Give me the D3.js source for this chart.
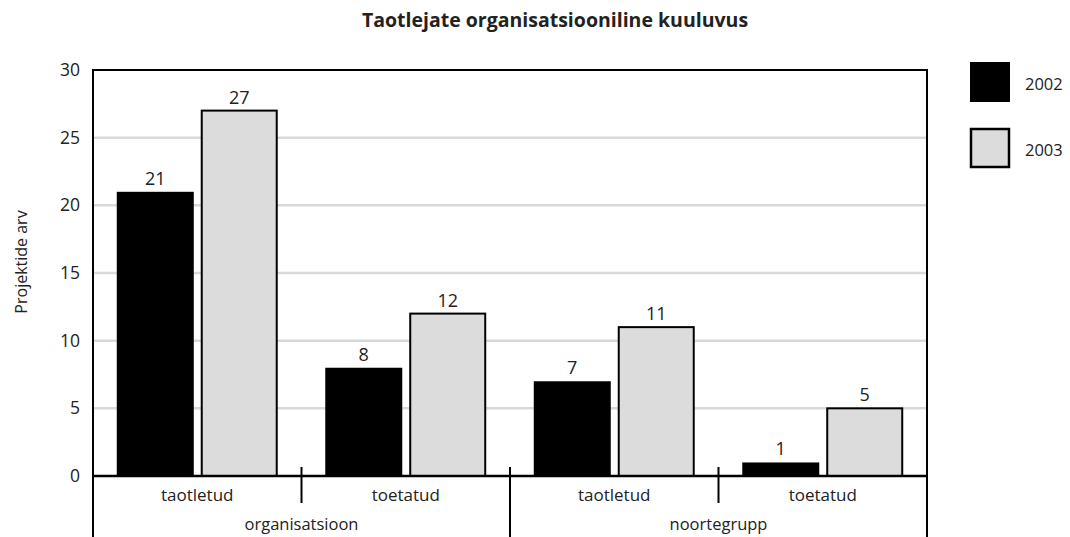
<!DOCTYPE html>
<html>
<head>
<meta charset="utf-8">
<script src="https://cdn.jsdelivr.net/npm/d3@7"></script>
<style>
  body { margin: 0; background: #fff; }
  text { font-family: "Open Sans", "Noto Sans", sans-serif; fill: #222; }
</style>
</head>
<body>
<div id="chart"></div>
<script>
const groups = ['organisatsioon', 'noortegrupp']
const subgroups = ['taotletud', 'toetatud']
const years = ['2002', '2003']
const values2002 = [21, 8, 7, 1]
const values2003 = [27, 12, 11, 5]
const yTicks = [0, 5, 10, 15, 20, 25, 30]

const width = 1070
const height = 537
const margin = { top: 70, left: 93, right: 143, bottom: 61 }
const plotW = width - margin.left - margin.right
const plotH = height - margin.top - margin.bottom

const colors = { '2002': '#000000', '2003': '#dcdcdc' }

const svg = d3
  .select('#chart')
  .append('svg')
  .attr('width', width)
  .attr('height', height)

// title
svg
  .append('text')
  .attr('x', 555)
  .attr('y', 27)
  .attr('text-anchor', 'middle')
  .attr('font-size', 19.5)
  .attr('font-weight', 'bold')
  .text('Taotlejate organisatsiooniline kuuluvus')

const g = svg.append('g').attr('transform', `translate(${margin.left},${margin.top})`)

// scales
const cells = []
groups.forEach((grp) => subgroups.forEach((sub) => cells.push({ grp, sub, key: `${grp}|${sub}` })))
cells.forEach((c, i) => {
  c['2002'] = values2002[i]
  c['2003'] = values2003[i]
})

const x0 = d3.scaleBand().domain(cells.map((c) => c.key)).range([0, plotW]).padding(0)
const x1 = d3
  .scaleBand()
  .domain(years)
  .range([0, x0.bandwidth()])
  .paddingInner(0.083)
  .paddingOuter(0.283)
const xg = d3.scaleBand().domain(groups).range([0, plotW]).padding(0)
const y = d3.scaleLinear().domain([0, 30]).range([plotH, 0])

// grid
g.selectAll('line.grid')
  .data(yTicks.filter((t) => t > 0 && t < 30))
  .join('line')
  .attr('class', 'grid')
  .attr('x1', 0)
  .attr('x2', plotW)
  .attr('y1', (d) => y(d))
  .attr('y2', (d) => y(d))
  .attr('stroke', '#d9d9d9')
  .attr('stroke-width', 2.5)

// y tick labels
g.selectAll('text.ytick')
  .data(yTicks)
  .join('text')
  .attr('class', 'ytick')
  .attr('x', -13)
  .attr('y', (d) => y(d))
  .attr('dy', '0.35em')
  .attr('text-anchor', 'end')
  .attr('font-size', 17.5)
  .text((d) => d)

// y axis title
svg
  .append('text')
  .attr('transform', 'translate(27,262)rotate(-90)')
  .attr('text-anchor', 'middle')
  .attr('font-size', 16)
  .text('Projektide arv')

// bars
const cellG = g
  .selectAll('g.cell')
  .data(cells)
  .join('g')
  .attr('class', 'cell')
  .attr('transform', (d) => `translate(${x0(d.key)},0)`)

cellG
  .selectAll('rect')
  .data((d) => years.map((yr) => ({ yr, v: d[yr] })))
  .join('rect')
  .attr('x', (d) => x1(d.yr) + (d.yr === '2003' ? 1 : 0))
  .attr('y', (d) => y(d.v))
  .attr('width', (d) => x1.bandwidth() - (d.yr === '2003' ? 2 : 0))
  .attr('height', (d) => y(0) - y(d.v))
  .attr('fill', (d) => colors[d.yr])
  .attr('stroke', (d) => (d.yr === '2003' ? '#000' : 'none'))
  .attr('stroke-width', 2)

cellG
  .selectAll('text.val')
  .data((d) => years.map((yr) => ({ yr, v: d[yr] })))
  .join('text')
  .attr('class', 'val')
  .attr('x', (d) => x1(d.yr) + x1.bandwidth() / 2)
  .attr('y', (d) => y(d.v) - 7)
  .attr('text-anchor', 'middle')
  .attr('font-size', 18)
  .text((d) => d.v)

// frame
g.append('path')
  .attr('d', `M0,${plotH}V0H${plotW}V${plotH}`)
  .attr('fill', 'none')
  .attr('stroke', '#000')
  .attr('stroke-width', 2)

// baseline
g.append('line')
  .attr('x1', 0)
  .attr('x2', plotW)
  .attr('y1', y(0))
  .attr('y2', y(0))
  .attr('stroke', '#000')
  .attr('stroke-width', 2.5)

// sub-category dividers
const subDividers = cells.slice(1).map((c) => x0(c.key)).filter((_, i) => i % 2 === 0)
g.selectAll('line.subdiv')
  .data(subDividers)
  .join('line')
  .attr('class', 'subdiv')
  .attr('x1', (d) => d)
  .attr('x2', (d) => d)
  .attr('y1', plotH - 9)
  .attr('y2', plotH + 27)
  .attr('stroke', '#000')
  .attr('stroke-width', 2)

// group dividers (extend to the bottom)
const groupDividers = [0, ...groups.map((grp) => xg(grp) + xg.bandwidth())]
g.selectAll('line.grpdiv')
  .data(groupDividers)
  .join('line')
  .attr('class', 'grpdiv')
  .attr('x1', (d) => d)
  .attr('x2', (d) => d)
  .attr('y1', (d, i) => (i === 1 ? plotH - 9 : plotH))
  .attr('y2', height - margin.top)
  .attr('stroke', '#000')
  .attr('stroke-width', 2)

// sub-category labels
g.selectAll('text.sub')
  .data(cells)
  .join('text')
  .attr('class', 'sub')
  .attr('x', (d) => x0(d.key) + x0.bandwidth() / 2)
  .attr('y', plotH + 25)
  .attr('text-anchor', 'middle')
  .attr('font-size', 17)
  .text((d) => d.sub)

// group labels
g.selectAll('text.grp')
  .data(groups)
  .join('text')
  .attr('class', 'grp')
  .attr('x', (d) => xg(d) + xg.bandwidth() / 2)
  .attr('y', plotH + 54)
  .attr('text-anchor', 'middle')
  .attr('font-size', 16.5)
  .text((d) => d)

// legend
const legend = svg
  .selectAll('g.legend')
  .data(years)
  .join('g')
  .attr('class', 'legend')
  .attr('transform', (d, i) => `translate(970,${62 + i * 66})`)

legend
  .append('rect')
  .attr('x', (d) => (d === '2003' ? 1 : 0))
  .attr('y', (d) => (d === '2003' ? 1 : 0))
  .attr('width', (d) => (d === '2003' ? 38 : 40))
  .attr('height', (d) => (d === '2003' ? 38 : 40))
  .attr('fill', (d) => colors[d])
  .attr('stroke', (d) => (d === '2003' ? '#000' : 'none'))
  .attr('stroke-width', 2.5)

legend
  .append('text')
  .attr('x', 55)
  .attr('y', 22)
  .attr('dy', '0.35em')
  .attr('font-size', 16.5)
  .text((d) => d)
</script>
</body>
</html>
